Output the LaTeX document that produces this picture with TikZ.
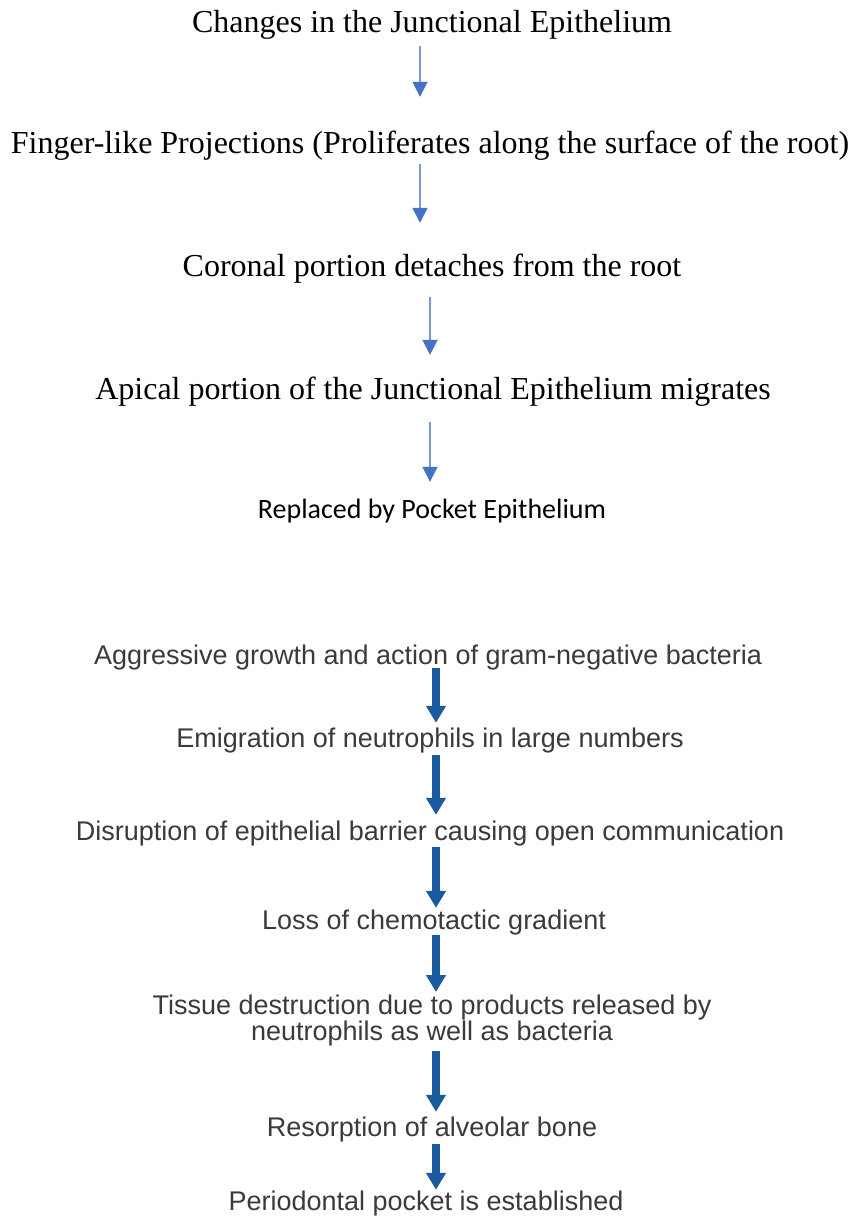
\documentclass[tikz,border=0pt]{standalone}
\usepackage{fontspec}
\setmainfont{Liberation Serif}
\newfontfamily\calibrifont{Carlito}
\newfontfamily\arialfont{Liberation Sans}
\usetikzlibrary{arrows.meta, positioning}
\definecolor{lightblue}{HTML}{4472C4}
\definecolor{shaftblue}{HTML}{7A9AD6}
\definecolor{darkblue}{HTML}{1A5A9E}
\definecolor{txtgray}{HTML}{3A3A3A}
\tikzset{
    upstep/.style={
        anchor=base, inner sep=0pt, text height=22pt, text depth=7pt,
        font=\fontsize{32}{36}\selectfont
    },
    pocketstep/.style={
        anchor=base, inner sep=0pt, text height=22pt, text depth=7pt,
        font=\calibrifont\fontsize{28}{32}\selectfont
    },
    lowstep/.style={
        anchor=base, inner sep=0pt, text height=19pt, text depth=0pt, align=center,
        text=txtgray, font=\arialfont\fontsize{27}{26}\selectfont
    },
    thinarrow/.style={
        -{Triangle[width=15pt, length=15pt, color=lightblue]}, line width=1.8pt, draw=shaftblue
    },
    thickarrow/.style={
        -{Triangle[width=19pt, length=17pt]}, line width=8pt, draw=darkblue
    }
}
\begin{document}
\begin{tikzpicture}[x=1pt, y=-1pt]
    \useasboundingbox (0,0) rectangle (859,1222);

    % junctional epithelium sequence
    \node[upstep]     (changes) at (432,33)  {Changes in the Junctional Epithelium};
    \node[upstep]     (finger)  at (430,154) {Finger-like Projections (Proliferates along the surface of the root)};
    \node[upstep]     (coronal) at (432,277) {Coronal portion detaches from the root};
    \node[upstep]     (apical)  at (433,399) {Apical portion of the Junctional Epithelium migrates};
    \node[pocketstep] (replace) at (432,518) {Replaced by Pocket Epithelium};

    \draw[thinarrow, shorten <=6pt, shorten >=35pt]  ([xshift=-12pt]changes.south) -- ([xshift=-12pt]changes.south |- finger.north);
    \draw[thinarrow, shorten <=3pt, shorten >=32pt]  ([xshift=-12pt]changes.south |- finger.south) -- ([xshift=-12pt]changes.south |- coronal.north);
    \draw[thinarrow, shorten <=13pt, shorten >=22pt] ([xshift=-2pt]coronal.south) -- ([xshift=-2pt]coronal.south |- apical.north);
    \draw[thinarrow, shorten <=16pt, shorten >=14pt] ([xshift=-2pt]coronal.south |- apical.south) -- ([xshift=-2pt]coronal.south |- replace.north);

    % pocket formation sequence
    \node[lowstep] (aggress)  at (428,664)  {Aggressive growth and action of gram-negative bacteria};
    \node[lowstep] (emigrate) at (430,747)  {Emigration of neutrophils in large numbers};
    \node[lowstep] (disrupt)  at (430,840)  {Disruption of epithelial barrier causing open communication};
    \node[lowstep] (loss)     at (434,929)  {Loss of chemotactic gradient};
    \node[lowstep, anchor=north, text height=, text depth=] (tissue) at (432,995) {Tissue destruction due to products released by\\neutrophils as well as bacteria};
    \node[lowstep] (resorb)   at (432,1136) {Resorption of alveolar bone};
    \node[lowstep] (pocket)   at (426,1210) {Periodontal pocket is established};

    \draw[thickarrow, shorten <=4pt, shorten >=5pt] ([xshift=8pt]aggress.south)  -- ([xshift=8pt]aggress.south |- emigrate.north);
    \draw[thickarrow, shorten <=8pt, shorten >=6pt] ([xshift=8pt]aggress.south |- emigrate.south) -- ([xshift=8pt]aggress.south |- disrupt.north);
    \draw[thickarrow, shorten <=7pt, shorten >=2pt] ([xshift=8pt]aggress.south |- disrupt.south) -- ([xshift=8pt]aggress.south |- loss.north);
    \draw[thickarrow, shorten <=6pt, shorten >=3pt] ([xshift=8pt]aggress.south |- loss.south) -- ([xshift=8pt]aggress.south |- tissue.north);
    \draw[thickarrow, shorten <=4pt, shorten >=5pt] ([xshift=8pt]aggress.south |- tissue.south) -- ([xshift=8pt]aggress.south |- resorb.north);
    \draw[thickarrow, shorten <=8pt, shorten >=1pt] ([xshift=8pt]aggress.south |- resorb.south) -- ([xshift=8pt]aggress.south |- pocket.north);

\end{tikzpicture}
\end{document}
